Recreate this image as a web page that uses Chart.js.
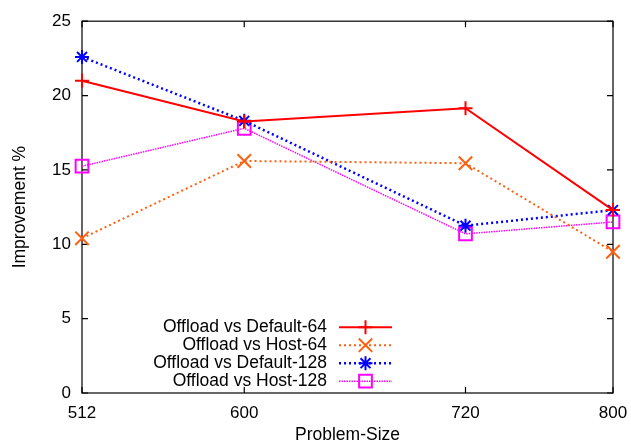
<!DOCTYPE html>
<html>
<head>
<meta charset="utf-8">
<script src="https://cdn.jsdelivr.net/npm/chart.js@4.4.1/dist/chart.umd.min.js"></script>
<style>
  html, body { margin: 0; padding: 0; background: #fff; }
  #wrap { width: 631px; height: 446px; }
</style>
</head>
<body>
<div id="wrap"><canvas id="chart"></canvas></div>
<script>
// data
const sizes = [512, 600, 720, 800];
const yTicks = [0, 5, 10, 15, 20, 25];
const default64 = [21.0, 18.25, 19.15, 12.3];
const host64 = [10.4, 15.6, 15.45, 9.5];
const default128 = [22.6, 18.3, 11.25, 12.3];
const host128 = [15.25, 17.8, 10.7, 11.5];

const FONT = "'Liberation Sans', Arial, Helvetica, sans-serif";

function pts(vals) {
  return vals.map((v, i) => ({ x: sizes[i], y: v }));
}

const series = [
  { label: "Offload vs Default-64", data: default64, color: "#ff0000", width: 2, dash: [], style: "cross", radius: 7 },
  { label: "Offload vs Host-64", data: host64, color: "#ff6010", width: 2, dash: [2, 3], style: "crossRot", radius: 9.5 },
  { label: "Offload vs Default-128", data: default128, color: "#0000ff", width: 2.5, dash: [2, 3], style: "star", radius: 7 },
  { label: "Offload vs Host-128", data: host128, color: "#ff00ff", width: 1.5, dash: [1.5, 1], style: "rect", radius: 9 }
];

// gnuplot style frame, inward ticks and legend
const framePlugin = {
  id: "frame",
  beforeDatasetsDraw(chart) {
    const { ctx, chartArea: a, scales } = chart;
    ctx.save();
    ctx.strokeStyle = "#000";
    ctx.lineWidth = 1.2;
    ctx.setLineDash([]);
    ctx.strokeRect(a.left, a.top, a.right - a.left, a.bottom - a.top);
    const tl = 6;
    ctx.beginPath();
    sizes.forEach(v => {
      const x = scales.x.getPixelForValue(v);
      ctx.moveTo(x, a.bottom); ctx.lineTo(x, a.bottom - tl);
      ctx.moveTo(x, a.top); ctx.lineTo(x, a.top + tl);
    });
    yTicks.forEach(v => {
      const y = scales.y.getPixelForValue(v);
      ctx.moveTo(a.left, y); ctx.lineTo(a.left + tl, y);
      ctx.moveTo(a.right, y); ctx.lineTo(a.right - tl, y);
    });
    ctx.stroke();

    // legend
    ctx.font = "17.5px " + FONT;
    ctx.textAlign = "right";
    ctx.textBaseline = "middle";
    const textRight = a.left + 245;
    const x0 = a.left + 257, x1 = a.left + 310;
    series.forEach((s, i) => {
      const y = a.top + 306 + i * 18;
      ctx.fillStyle = "#000";
      ctx.fillText(s.label, textRight, y);
      ctx.strokeStyle = s.color;
      ctx.lineWidth = s.width;
      ctx.setLineDash(s.dash);
      ctx.beginPath();
      ctx.moveTo(x0, y); ctx.lineTo(x1, y);
      ctx.stroke();
      ctx.setLineDash([]);
      ctx.fillStyle = "rgba(0,0,0,0)";
      ctx.strokeStyle = s.color;
      ctx.lineWidth = 2;
      Chart.helpers.drawPoint(ctx, { pointStyle: s.style, radius: s.radius, rotation: 0, borderWidth: 2 }, (x0 + x1) / 2, y);
    });
    ctx.restore();
  }
};

new Chart(document.getElementById("chart"), {
  type: "line",
  data: {
    datasets: series.map(s => ({
      label: s.label,
      data: pts(s.data),
      borderColor: s.color,
      backgroundColor: "rgba(0,0,0,0)",
      borderWidth: s.width,
      borderDash: s.dash,
      pointStyle: s.style,
      pointRadius: s.radius,
      pointBorderWidth: 2,
      pointBorderColor: s.color,
      pointBackgroundColor: "rgba(0,0,0,0)",
      tension: 0,
      clip: false
    }))
  },
  options: {
    responsive: true,
    maintainAspectRatio: false,
    animation: false,
    layout: { padding: { top: 19, right: 18, left: 0, bottom: 0 } },
    plugins: { legend: { display: false }, tooltip: { enabled: false } },
    scales: {
      x: {
        type: "linear",
        min: 512,
        max: 800,
        afterBuildTicks: s => { s.ticks = sizes.map(v => ({ value: v })); },
        afterFit: s => { s.height = 53; s.paddingLeft = 0; s.paddingRight = 0; },
        grid: { display: false, drawTicks: false },
        border: { display: false },
        ticks: { color: "#000", font: { family: FONT, size: 17 }, padding: 10, maxRotation: 0 },
        title: { display: true, text: "Problem-Size", color: "#000", font: { family: FONT, size: 17.5 }, padding: { top: 0, bottom: 0 } }
      },
      y: {
        min: 0,
        max: 25,
        afterBuildTicks: s => { s.ticks = yTicks.map(v => ({ value: v })); },
        afterFit: s => { s.width = 82; },
        grid: { display: false, drawTicks: false },
        border: { display: false },
        ticks: { color: "#000", font: { family: FONT, size: 17 }, padding: 11 },
        title: { display: true, text: "Improvement %", color: "#000", font: { family: FONT, size: 17.5 }, padding: { top: 10, bottom: 0 } }
      }
    }
  },
  plugins: [framePlugin]
});
</script>
</body>
</html>
